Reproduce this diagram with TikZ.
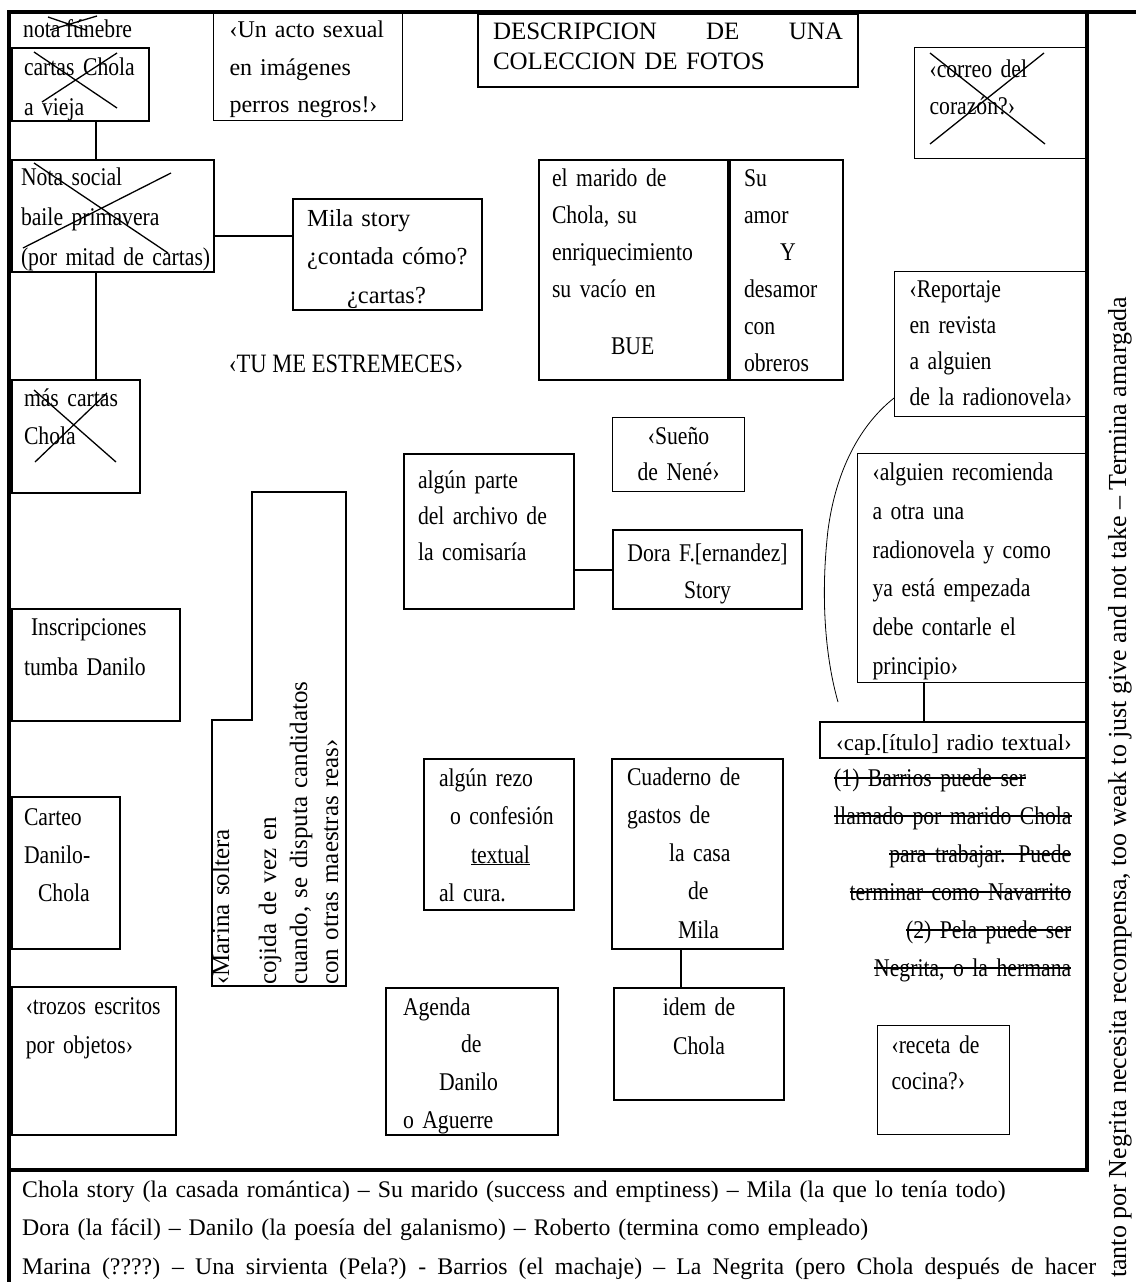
\documentclass[tikz,border=0pt]{standalone}
\usepackage{fontspec}
\setmainfont{Liberation Serif}
\newfontfamily\narrowfont[FakeStretch=0.85]{Liberation Serif}
\usetikzlibrary{positioning}

\newcommand{\scantext}{\narrowfont\fontsize{25.5}{38.5}\selectfont}
\newcommand{\typetext}{\fontsize{23.8}{38.5}\selectfont}
\newsavebox{\strikebox}
\newcommand{\struck}[1]{\leavevmode\sbox{\strikebox}{#1}\rlap{\usebox{\strikebox}}\rule[0.3em]{\wd\strikebox}{1.2pt}}

\begin{document}
\begin{tikzpicture}[
    x=1pt, y=-1pt,
    card/.style={rectangle, draw, line width=2pt, anchor=north west, inner ysep=0pt, align=left, font=\scantext},
    thincard/.style={card, line width=1.1pt},
    link/.style={line width=2pt},
    thinlink/.style={line width=1.1pt},
    frame/.style={line width=4pt},
    cross/.style={line width=1.3pt},
    memo/.style={inner sep=0pt, font=\scantext}
]

\fill[white] (0,0) rectangle (1136,1282);
\useasboundingbox (0,0) rectangle (1136,1282);

% Frame
\draw[frame] (1136,12) -- (9,12) -- (9,1282);
\draw[frame] (1087,12) -- (1087,1170) -- (9,1170);

% Left column
\node[memo, anchor=base west] (funebre) at (23,37) {nota fúnebre};
\node[card, font={\narrowfont\fontsize{25.5}{40}\selectfont}, text width=113pt, inner xsep=12pt, text height=27pt, text depth=46pt] (cartas) at (11,47) {cartas Chola\\a vieja};
\node[card, font={\narrowfont\fontsize{25.5}{40}\selectfont}, text width=184pt, inner xsep=9pt, text height=25pt, text depth=87pt] (nota) at (11,159) {Nota social\\baile primavera\\\mbox{(por mitad de cartas)}};
\node[card, text width=104pt, inner xsep=12pt, text height=26pt, text depth=87pt] (mas) at (11,379) {más cartas\\Chola};
\node[card, font={\narrowfont\fontsize{25.5}{40}\selectfont}, text width=144pt, inner xsep=12pt, text height=26pt, text depth=86pt] (inscr) at (11,608) {\hspace*{7pt}Inscripciones\\tumba Danilo};
\node[card, font={\narrowfont\fontsize{25.5}{38}\selectfont}, text width=84pt, inner xsep=12pt, text height=28pt, text depth=124pt] (carteo) at (11,796) {Carteo\\Danilo-\\\hspace*{14pt}Chola};
\node[thincard, line width=1.5pt, font={\narrowfont\fontsize{25.5}{39}\selectfont}, text width=136pt, inner xsep=14pt, text height=28pt, text depth=120pt] (trozos) at (11,986) {‹trozos escritos\\por objetos›};

% Crossed out
\draw[cross] (48,17) -- (86,30) (50,30) -- (97,16);
\draw[cross] (34,52) -- (117,108) (117,53) -- (42,102);
\draw[cross] (34,163) -- (168,253) (171,173) -- (23,248);
\draw[cross] (34,390) -- (116,462) (107,393) -- (35,462);

% Top row
\node[thincard, font={\fontsize{24}{37.5}\selectfont}, text width=165pt, inner xsep=12pt, text height=24pt, text depth=83pt] (acto) at (213,13) {\hspace*{4pt}\mbox{‹Un acto sexual}\\\hspace*{4pt}en imágenes\\\hspace*{4pt}\mbox{perros negros!›}};
\node[card, font={\fontsize{25}{30}\selectfont}, text width=350pt, inner xsep=15pt, text height=25pt, text depth=48pt] (fotos) at (477,13) {\makebox[350pt][s]{DESCRIPCION\hfill DE\hfill UNA}\\COLECCION DE FOTOS};
\node[thincard, font={\narrowfont\fontsize{25.5}{37}\selectfont}, text width=143pt, inner xsep=15pt, text height=30pt, text depth=81pt] (correo) at (914,47) {‹correo del\\corazón?›};
\draw[cross] (930,53) -- (1045,144) (1044,53) -- (930,144);

% Middle
\node[card, font={\fontsize{24.5}{38.5}\selectfont}, text width=161pt, inner xsep=14pt, text height=27pt, text depth=84pt] (mila) at (292,198) {Mila story\\¿contada cómo?\\\hspace*{40pt}¿cartas?};
\node[memo, font={\narrowfont\fontsize{26.5}{30}\selectfont}, anchor=base west] (tume) at (229,372) {‹TU ME ESTREMECES›};

\node[card, font={\narrowfont\fontsize{25.5}{37}\selectfont}, text width=163pt, inner xsep=13pt, text height=26pt, text depth=194pt] (maridoL) at (538,159) {el marido de\\Chola, su\\enriquecimiento\\su vacío en\\[20pt]\hspace*{59pt}BUE};
\node[card, font={\narrowfont\fontsize{25.5}{37}\selectfont}, text width=85pt, inner xsep=14pt, text height=26pt, text depth=194pt] (maridoR) at (maridoL.north east) {Su\\amor\\\hspace*{36pt}Y\\desamor\\con\\obreros};

\node[thincard, font={\narrowfont\fontsize{25.5}{36}\selectfont}, text width=163pt, inner xsep=15pt, text height=26pt, text depth=119pt] (report) at (894,271) {‹Reportaje\\en revista\\a alguien\\de la radionovela›};
\node[thincard, align=center, font={\narrowfont\fontsize{25.5}{36}\selectfont}, text width=116pt, inner xsep=8pt, text height=27pt, text depth=47pt] (sueno) at (612,417) {‹Sueño\\de Nené›};
\node[card, font={\narrowfont\fontsize{25.5}{36}\selectfont}, text width=142pt, inner xsep=14pt, text height=34pt, text depth=121pt] (parte) at (403,453) {algún parte\\del archivo de\\la comisaría};
\node[card, align=center, font={\narrowfont\fontsize{25.5}{37}\selectfont}, text width=177pt, inner xsep=6pt, text height=31pt, text depth=48pt] (dora) at (612,529) {Dora F.[ernandez]\\Story};

% Right column
\node[thincard, font={\narrowfont\fontsize{25.5}{38.8}\selectfont}, text width=200pt, inner xsep=15pt, text height=27pt, text depth=202pt] (alguien) at (857,453) {‹alguien recomienda\\a otra una\\radionovela y como\\ya está empezada\\debe contarle el\\principio›};
\node[card, align=center, font={\fontsize{23}{30}\selectfont}, text width=256pt, inner xsep=6pt, text height=28pt, text depth=8pt] (cap) at (819,721) {‹cap.[ítulo] radio textual›};
\node[memo, anchor=north west, align=right, text width=237pt, text height=27pt, font={\narrowfont\fontsize{25.5}{38}\selectfont}] (barrios) at ([xshift=15pt]cap.south west) {\makebox[237pt][l]{\struck{(1) Barrios puede ser}}\\\struck{llamado por marido Chola}\\\struck{para trabajar. Puede}\\\struck{terminar como Navarrito}\\\struck{(2) Pela puede ser}\\\struck{Negrita, o la hermana}};
\node[thincard, font={\narrowfont\fontsize{25.5}{36}\selectfont}, text width=104pt, inner xsep=14pt, text height=28pt, text depth=81pt] (receta) at (877,1025) {‹receta de\\cocina?›};

% Marina
\draw[line width=1.4pt] (252,492) -- (346,492) -- (346,986) -- (212,986) -- (212,720) -- (252,720) -- cycle;
\node[memo, font={\fontsize{25}{31}\selectfont}, rotate=90, anchor=base west, text width=320pt, align=left] (marina) at (229,985) {‹Marina soltera\\[16pt]cojida de vez en\\cuando, se disputa candidatos\\con otras maestras reas›};

% Lower middle
\node[card, font={\narrowfont\fontsize{25.5}{38.5}\selectfont}, text width=120pt, inner xsep=15pt, text height=27pt, text depth=124pt] (rezo) at (423,758) {algún rezo\\\hspace*{11pt}o confesión\\\hspace*{32pt}\underline{textual}\\al cura.};
\node[card, font={\narrowfont\fontsize{25.5}{38.3}\selectfont}, text width=141pt, inner xsep=15pt, text height=26pt, text depth=164pt] (gastos) at (611,758) {Cuaderno de\\gastos de\\\hspace*{42pt}la casa\\\hspace*{61pt}de\\\hspace*{51pt}Mila};
\node[card, align=center, font={\narrowfont\fontsize{25.5}{39}\selectfont}, text width=158pt, inner xsep=6pt, text height=27pt, text depth=85pt] (idem) at (613,987) {idem de\\Chola};
\node[card, font={\narrowfont\fontsize{25.5}{37.7}\selectfont}, text width=138pt, inner xsep=17pt, text height=27pt, text depth=120pt] (agenda) at (385,987) {Agenda\\\hspace*{58pt}de\\\hspace*{36pt}Danilo\\o Aguerre};

% Bottom notes
\node[memo, font=\typetext, anchor=base west, text width=1110pt, align=left] (summary) at (22,1197) {Chola story (la casada romántica) – Su marido (success and emptiness) – Mila (la que lo tenía todo)\\Dora (la fácil) – Danilo (la poesía del galanismo) – Roberto (termina como empleado)\\\makebox[1074pt][s]{\spaceskip=0.25em plus 1em\relax Marina (????) – Una sirvienta (Pela?) - Barrios (el machaje) – La Negrita (pero Chola después de hacer}};
\node[memo, font={\fontsize{26}{30}\selectfont}, rotate=90, anchor=base west] (margin) at (1126,1278) {tanto por Negrita necesita recompensa, too weak to just give and not take – Termina amargada};

% Links
\coordinate (spine) at (96,0);
\coordinate (milarow) at (0,236);
\coordinate (capline) at (924,0);
\coordinate (gastosline) at (681,0);
\coordinate (capnote) at (838,702);
\draw[link] (cartas.south -| spine) -- (nota.north -| spine);
\draw[link] (nota.south -| spine) -- (mas.north -| spine);
\draw[link] (nota.east |- milarow) -- (mila.west |- milarow);
\draw[link] (parte.east |- dora.west) -- (dora.west);
\draw[thinlink] (alguien.south -| capline) -- (cap.north -| capline);
\draw[link] (gastos.south -| gastosline) -- (idem.north -| gastosline);
\draw[line width=0.8pt] ([yshift=-54pt]report.west) .. controls (860,425) and (836,470) .. (828,530) .. controls (820,600) and (826,660) .. (capnote);

\end{tikzpicture}
\end{document}
